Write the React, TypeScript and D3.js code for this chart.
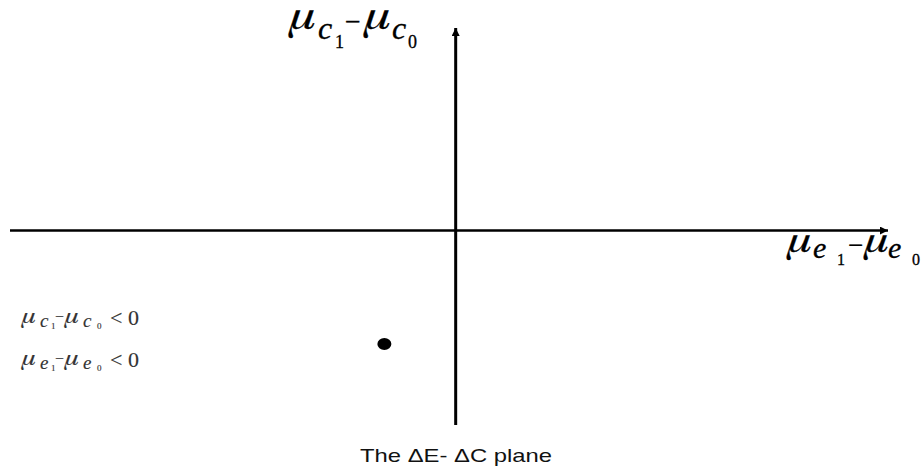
import React from "react";
import * as d3 from "d3";

// plane extents (arbitrary units) and the single plotted point
const xDomain = [-10, 9.7];
const yDomain = [-4.8, 5];
const points = [{ x: -1.6, y: -2.8 }];

// label pieces: [text, dx, dy, size, italic]
type Piece = [string, number, number, number, boolean];
const yAxisLabel: Piece[] = [
  ["μ", 0, 0, 42, true],
  ["c", 28, 10, 32, true],
  ["1", 45, 19, 18, false],
  ["−", 55, 2, 28, false],
  ["μ", 75, 0, 42, true],
  ["c", 102, 10, 32, true],
  ["0", 118, 19, 18, false],
];
const xAxisLabel: Piece[] = [
  ["μ", 0, 0, 38, true],
  ["e", 25, 6, 30, true],
  ["1", 49, 13, 16, false],
  ["−", 60, 2, 27, false],
  ["μ", 77, 0, 38, true],
  ["e", 100, 6, 30, true],
  ["0", 124, 13, 16, false],
];
const condC: Piece[] = [
  ["μ", 0, 0, 22, true],
  ["c", 18, 4, 19, true],
  ["1", 29, 6, 9, false],
  ["−", 33, -1, 16, false],
  ["μ", 43, 0, 22, true],
  ["c", 61, 4, 19, true],
  ["0", 75, 6, 9, false],
  ["<", 88, 2, 22, false],
  ["0", 106, 2, 22, false],
];
const condE: Piece[] = condC.map((p) => (p[0] === "c" ? ["e", p[1], p[2], p[3], p[4]] : p)) as Piece[];
const caption = "The ΔE- ΔC plane";

const W = 924;
const H = 470;
const serif = '"Liberation Serif", serif';
const muFont = '"FreeSerif", "Liberation Serif", serif';

const MathLabel = ({ x, y, pieces, fill = "#000", weight = 0.3 }: { x: number; y: number; pieces: Piece[]; fill?: string; weight?: number }) => (
  <g transform={`translate(${x},${y})`}>
    {pieces.map(([t, dx, dy, size, it], i) => {
      const isMu = t === "μ";
      return (
        <text key={i} x={dx} y={dy}
          textLength={isMu ? Math.round(size * 0.62) : undefined}
          lengthAdjust={isMu ? "spacingAndGlyphs" : undefined}
          style={{
            fontFamily: isMu ? muFont : serif,
            fontSize: size,
            fontStyle: it ? "italic" : "normal",
            fill,
            stroke: fill,
            strokeWidth: weight,
          }}>
          {t}
        </text>
      );
    })}
  </g>
);

const App = () => {
  const x = d3.scaleLinear().domain(xDomain).range([10, 888]);
  const y = d3.scaleLinear().domain(yDomain).range([425, 28]);

  return (
    <svg width={W} height={H} style={{ position: "absolute", left: 0, top: 0, background: "#fff" }}>
      <defs>
        <marker id="arrow" viewBox="0 0 10 10" refX="10" refY="5" markerWidth="9" markerHeight="8"
          markerUnits="userSpaceOnUse" orient="auto">
          <path d="M0,0 L10,5 L0,10 Z" fill="#000" />
        </marker>
      </defs>

      {/* axes */}
      <line x1={x(xDomain[0])} x2={x(xDomain[1])} y1={y(0)} y2={y(0)} stroke="#000" strokeWidth={2.5}
        markerEnd="url(#arrow)" />
      <line x1={x(0)} x2={x(0)} y1={y(yDomain[0])} y2={y(yDomain[1])} stroke="#000" strokeWidth={3}
        markerEnd="url(#arrow)" />

      {/* point */}
      {points.map((p, i) => (
        <ellipse key={i} cx={x(p.x)} cy={y(p.y)} rx={7} ry={6} fill="#000" />
      ))}

      <MathLabel x={290} y={29} pieces={yAxisLabel} />
      <MathLabel x={788} y={252} pieces={xAxisLabel} />
      <MathLabel x={22} y={323} pieces={condC} fill="#333" weight={0.15} />
      <MathLabel x={22} y={365} pieces={condE} fill="#333" weight={0.15} />

      <text x={360} y={462} textLength={192} lengthAdjust="spacingAndGlyphs"
        style={{ fontFamily: '"Liberation Sans", Arial, sans-serif', fontSize: 19, fill: "#111" }}>
        {caption}
      </text>
    </svg>
  );
};

export default App;
